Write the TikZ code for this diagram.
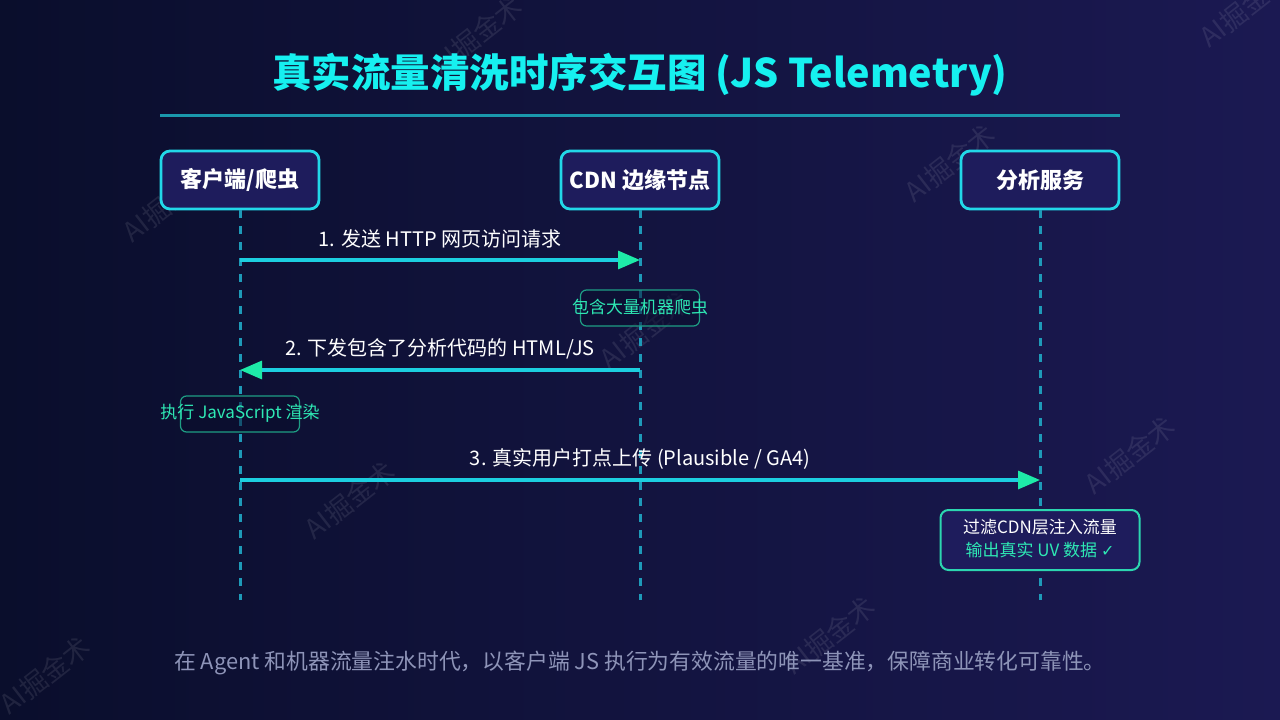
\documentclass[tikz,border=0pt]{standalone}
\usepackage{fontspec}
\setmainfont{Noto Sans CJK SC}
\newfontfamily\symfont{DejaVu Sans}
\usetikzlibrary{arrows.meta}
\definecolor{bgL}{HTML}{0A0E2C}
\definecolor{bgR}{HTML}{1B1952}
\definecolor{titlecyan}{HTML}{16F0F0}
\definecolor{rulecol}{HTML}{1A98AC}
\definecolor{boxfill}{HTML}{1E1C5C}
\definecolor{boxborder}{HTML}{22D8E8}
\definecolor{lifecol}{HTML}{1E9AB8}
\definecolor{arrowline}{HTML}{1CCFE0}
\definecolor{arrowhead}{HTML}{1EEAA8}
\definecolor{noteborder}{HTML}{1E9E84}
\definecolor{notetext}{HTML}{2EE8B4}
\definecolor{finalborder}{HTML}{2CD6B0}
\definecolor{foottext}{HTML}{8E94B8}
\tikzset{
  actor/.style={draw=boxborder, line width=2.8pt, fill=boxfill, rounded corners=9pt,
    minimum width=158pt, minimum height=58pt, text=white,
    font=\bfseries\fontsize{22}{26}\selectfont},
  lifeline/.style={draw=lifecol, line width=3pt, dash pattern=on 8pt off 8pt},
  msg/.style={draw=arrowline, line width=3.2pt,
    -{Triangle[length=22pt,width=18pt,color=arrowhead]}},
  msglabel/.style={text=white, font=\fontsize{20}{24}\selectfont},
  notebox/.style={draw=noteborder, line width=1.2pt, fill=bgL, fill opacity=0.5,
    rounded corners=6pt, minimum height=36pt},
  notelabel/.style={text=notetext, font=\fontsize{17}{20}\selectfont},
  finalbox/.style={draw=finalborder, line width=2pt, fill=boxfill, rounded corners=8pt,
    minimum width=199pt, minimum height=60pt},
  wm/.style={text=white, opacity=0.09, rotate=38, font=\fontsize{27}{30}\selectfont}
}
\begin{document}
\begin{tikzpicture}[x=1pt,y=-1pt]
\useasboundingbox (0,0) rectangle (1280,720);
\shade[left color=bgL, right color=bgR] (0,0) rectangle (1280,720);

% watermarks
\node[wm] (w1) at (168,203) {AI掘金术};
\node[wm] (w2) at (477,35) {AI掘金术};
\node[wm] (w3) at (950,163) {AI掘金术};
\node[wm] (w4) at (645,330) {AI掘金术};
\node[wm] (w5) at (350,500) {AI掘金术};
\node[wm] (w6) at (1130,455) {AI掘金术};
\node[wm] (w7) at (830,635) {AI掘金术};
\node[wm] (w8) at (45,675) {AI掘金术};
\node[wm] (w9) at (1245,8) {AI掘金术};

% title
\node[text=titlecyan, font=\bfseries\fontsize{39.5}{44}\selectfont] (title) at (640,75) {真实流量清洗时序交互图 (JS Telemetry)};
\draw[rulecol, line width=3pt] (160,115) coordinate (ruleL) -- (1120,115) coordinate (ruleR);

% actors
\node[actor] (client) at (240,180) {客户端/爬虫};
\node[actor] (cdn) at (640,180) {CDN 边缘节点};
\node[actor] (ana) at (1040,180) {分析服务};

% lifelines
\coordinate (clientEnd) at (240,600);
\coordinate (cdnEnd) at (640,600);
\coordinate (anaEnd) at (1040,600);
\draw[lifeline] (client.south) -- (clientEnd);
\draw[lifeline] (cdn.south) -- (cdnEnd);
\draw[lifeline] (ana.south) -- (anaEnd);

% message 1
\coordinate (m1a) at (240,260);
\coordinate (m1b) at (640,260);
\draw[msg] (m1a) -- (m1b);
\node[msglabel] (l1) at (440,239) {1. 发送 HTTP 网页访问请求};

% note on CDN
\node[notebox, minimum width=119pt] (n1) at (640,308) {};
\node[notelabel] (n1t) at (640,307) {包含大量机器爬虫};

% message 2
\coordinate (m2a) at (640,370);
\coordinate (m2b) at (240,370);
\draw[msg] (m2a) -- (m2b);
\node[msglabel] (l2) at (440,349) {2. 下发包含了分析代码的 HTML/JS};

% note on client
\node[notebox, minimum width=119pt] (n2) at (240,414) {};
\node[notelabel] (n2t) at (240,413) {执行 JavaScript 渲染};

% message 3
\coordinate (m3a) at (240,480);
\coordinate (m3b) at (1040,480);
\draw[msg] (m3a) -- (m3b);
\node[msglabel] (l3) at (640,459) {3. 真实用户打点上传 (Plausible / GA4)};

% final box
\node[finalbox] (fin) at (1040,540) {};
\node[text=white, font=\fontsize{17}{20}\selectfont] (fin1) at (1040,527) {过滤CDN层注入流量};
\node[text=notetext, font=\fontsize{17}{20}\selectfont] (fin2) at (1040,550) {输出真实 UV 数据 {\symfont\fontsize{16}{18}\selectfont ✓}};

% footer
\node[text=foottext, font=\fontsize{21.8}{25}\selectfont] (foot) at (640,663) {在 Agent 和机器流量注水时代，以客户端 JS 执行为有效流量的唯一基准，保障商业转化可靠性。};
\end{tikzpicture}
\end{document}
